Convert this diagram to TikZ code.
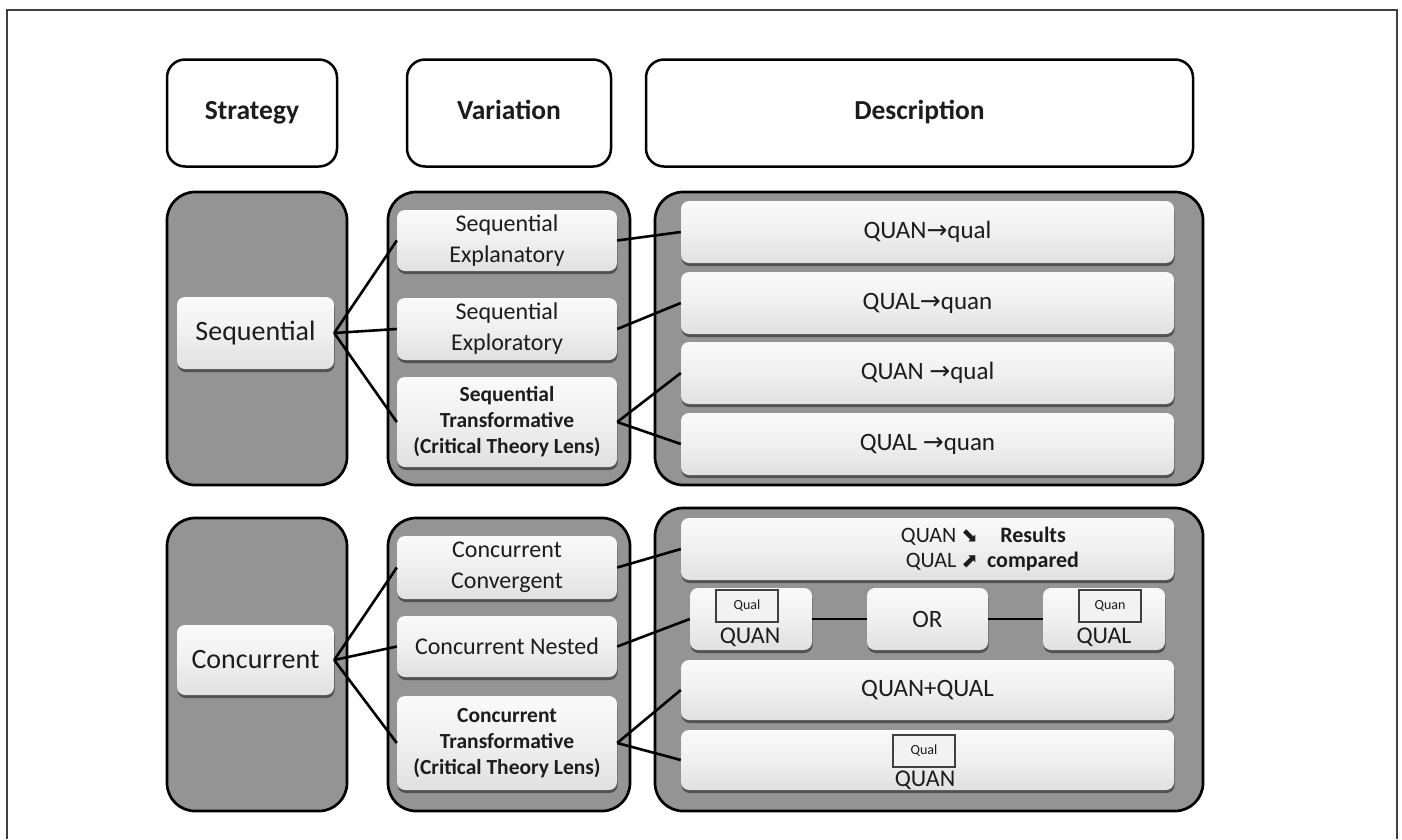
\documentclass[tikz,border=0pt]{standalone}
\usepackage{fontspec}
\setmainfont{Carlito}
\newfontfamily\djv{DejaVu Sans}
\usetikzlibrary{shadows}
\definecolor{grp}{RGB}{148,148,148}
\definecolor{txt}{RGB}{28,28,28}
\newcommand{\ar}{{\djv\fontsize{25}{28}\selectfont →}}
\begin{document}
\begin{tikzpicture}[x=1pt,y=-1pt,
  hbox/.style={draw=black,line width=2.5pt,rounded corners=18pt,fill=white,
    font=\fontsize{27.5}{30}\selectfont\bfseries,text=txt,inner sep=0pt,text height=19pt,text depth=6pt},
  grpbox/.style={draw=black,line width=2.7pt,rounded corners=28pt,fill=grp,inner sep=0pt},
  lbox/.style={rounded corners=8pt,top color=gray!4,bottom color=gray!24,middle color=gray!12,
    drop shadow={shadow xshift=0.6pt,shadow yshift=-3pt,fill=black,opacity=0.45},
    text=txt,align=center,inner sep=0pt,font=\fontsize{24}{31}\selectfont},
  tbox/.style={lbox,font=\fontsize{21.5}{26}\selectfont\bfseries},
  dbox/.style={lbox,font=\fontsize{25}{30}\selectfont},
  smallbox/.style={draw=black!75,line width=1.3pt,fill=gray!10,minimum width=62pt,minimum height=32pt,
    inner sep=0pt,font=\fontsize{14}{16}\selectfont,text=txt},
  plain/.style={inner sep=0pt,text=txt,font=\fontsize{24}{28}\selectfont},
  conn/.style={line width=2.6pt,black}
]
\useasboundingbox (0,0) rectangle (1402,839);
\fill[white] (0,0) rectangle (1402,839);
\draw[line width=1.6pt,black!75] (7,839) -- (7,10) -- (1397,10) -- (1397,839);

% headers
\node[hbox,minimum width=170pt,minimum height=107pt] (hs) at (252,113) {Strategy};
\node[hbox,minimum width=204pt,minimum height=107pt] (hv) at (509,113) {Variation};
\node[hbox,minimum width=547pt,minimum height=107pt] (hd) at (919.5,113) {Description};

% groups
\node[grpbox,minimum width=180pt,minimum height=293pt] (gs1) at (257,338.5) {};
\node[grpbox,minimum width=242pt,minimum height=293pt] (gv1) at (509,338.5) {};
\node[grpbox,minimum width=548pt,minimum height=293pt] (gd1) at (929,338.5) {};
\node[grpbox,minimum width=180pt,minimum height=293pt] (gs2) at (257,664.5) {};
\node[grpbox,minimum width=242pt,minimum height=293pt] (gv2) at (509,664.5) {};
\node[grpbox,minimum width=548pt,minimum height=303pt] (gd2) at (929,659.5) {};

% strategy nodes
\node[lbox,font=\fontsize{28}{32}\selectfont,minimum width=157pt,minimum height=72pt] (sq) at (255.5,333) {Sequential};
\node[lbox,font=\fontsize{28}{32}\selectfont,minimum width=157pt,minimum height=70pt] (cc) at (255.5,660) {Concurrent};

% variation nodes
\node[lbox,minimum width=220pt,minimum height=61pt] (ve) at (507,240.5) {Sequential\\Explanatory};
\node[lbox,minimum width=220pt,minimum height=62pt] (vx) at (507,329) {Sequential\\Exploratory};
\node[tbox,minimum width=220pt,minimum height=90pt] (vt) at (507,422) {Sequential\\Transformative\\(Critical Theory Lens)};
\node[lbox,minimum width=220pt,minimum height=63pt] (vc) at (507,567.5) {Concurrent\\Convergent};
\node[lbox,minimum width=220pt,minimum height=61pt] (vn) at (507,646.5) {Concurrent Nested};
\node[tbox,minimum width=220pt,minimum height=94pt] (vtc) at (507,743) {Concurrent\\Transformative\\(Critical Theory Lens)};

% description sequential
\node[dbox,minimum width=493pt,minimum height=62pt] (d1) at (927.5,232) {QUAN\ar qual};
\node[dbox,minimum width=493pt,minimum height=62pt] (d2) at (927.5,303) {QUAL\ar quan};
\node[dbox,minimum width=493pt,minimum height=62pt] (d3) at (927.5,373) {QUAN \ar qual};
\node[dbox,minimum width=493pt,minimum height=62pt] (d4) at (927.5,444) {QUAL \ar quan};

% description concurrent
\node[dbox,minimum width=493pt,minimum height=62pt] (e1) at (927.5,549) {};
\node[plain,font=\fontsize{22}{25}\selectfont] (e1t) at (990,550)
  {\begin{tabular}{@{}r@{\hspace{5pt}}c@{\hspace{9pt}}c@{}}QUAN & {\djv\fontsize{20}{25}\selectfont ⬊} & \textbf{Results}\\
   QUAL & {\djv\fontsize{20}{25}\selectfont ⬈} & \textbf{compared}\end{tabular}};
\node[dbox,minimum width=122pt,minimum height=62pt] (lq) at (751,619) {};
\node[dbox,minimum width=121pt,minimum height=62pt] (or) at (927.5,619) {OR};
\node[dbox,minimum width=122pt,minimum height=62pt] (rq) at (1104,619) {};
\node[dbox,minimum width=493pt,minimum height=60pt] (e3) at (927.5,690) {QUAN+QUAL};
\node[dbox,minimum width=493pt,minimum height=60pt] (e4) at (927.5,760) {};

\node[smallbox] (lqs) at (747,606) {Qual};
\node[plain] (lqt) at (750,637) {QUAN};
\node[smallbox] (rqs) at (1110,606) {Quan};
\node[plain] (rqt) at (1104,637) {QUAL};
\node[smallbox] (e4s) at (924,751) {Qual};
\node[plain] (e4t) at (925,780) {QUAN};

% connectors
\draw[conn] (sq.east) -- (ve.west);
\draw[conn] (sq.east) -- (vx.west);
\draw[conn] (sq.east) -- (vt.west);
\draw[conn] (cc.east) -- (vc.west);
\draw[conn] (cc.east) -- (vn.west);
\draw[conn] (cc.east) -- (vtc.west);

\draw[conn] (ve.east) -- (d1.west);
\draw[conn] (vx.east) -- (d2.west);
\draw[conn] (vt.east) -- (d3.west);
\draw[conn] (vt.east) -- (d4.west);
\draw[conn] (vc.east) -- (e1.west);
\draw[conn] (vn.east) -- (lq.west);
\draw[conn] (vtc.east) -- (e3.west);
\draw[conn] (vtc.east) -- (e4.west);

\draw[conn] (lq.east) -- (or.west);
\draw[conn] (or.east) -- (rq.west);
\end{tikzpicture}
\end{document}
